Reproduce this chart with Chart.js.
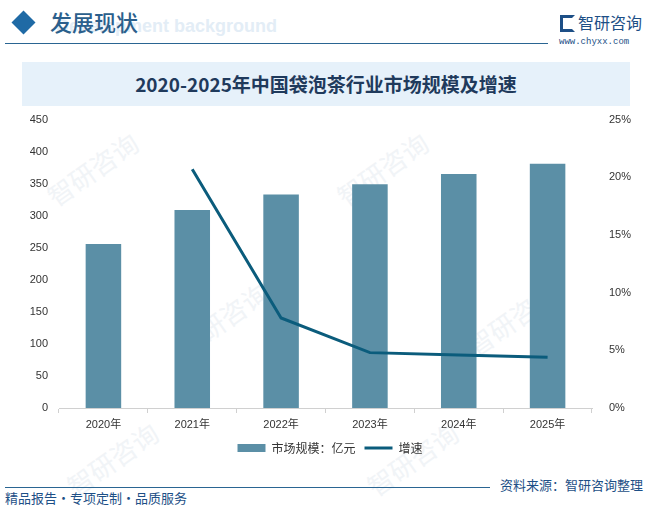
<!DOCTYPE html>
<html>
<head>
<meta charset="utf-8">
<script src="https://cdn.jsdelivr.net/npm/chart.js@4"></script>
<style>
  html, body { margin: 0; padding: 0; background: #fff; }
  body { width: 655px; height: 510px; position: relative; overflow: hidden; font-family: "Noto Sans CJK SC", sans-serif; }
  .diamond { position: absolute; left: 15px; top: 14px; width: 17px; height: 17px; background: #1f6aa5; transform: rotate(45deg); }
  .diamond2 { position: absolute; left: 24px; top: 14px; width: 17px; height: 17px; background: #9fc3e2; transform: rotate(45deg); z-index: -1; }
  .bgword { position: absolute; left: 56px; top: 16px; font: bold 18px "Liberation Sans", sans-serif; color: #e3edf6; white-space: nowrap; }
  .head { position: absolute; left: 50px; top: 5px; font-size: 22px; color: #2b5f8c; font-weight: 500; }
  .headline { position: absolute; left: 5px; top: 43px; width: 543px; height: 1px; background: #2a6592; }
  .logo-icon { position: absolute; left: 560px; top: 15px; width: 15px; height: 17px; border: 3px solid #1d4f86; border-right-color: transparent; box-sizing: border-box; }
  .logo-text { position: absolute; left: 578px; top: 10px; font-size: 16px; color: #1d4f86; }
  .logo-url { position: absolute; left: 559px; top: 37px; font: 9px "Liberation Mono", monospace; color: #1d4f86; }
  .title-box { position: absolute; left: 22px; top: 62px; width: 608px; height: 44px; background: #e6f1fa; }
  .title { position: absolute; left: 22px; top: 62px; width: 608px; height: 44px; line-height: 44px; text-align: center; font-size: 19px; font-weight: bold; color: #1f3a5c; }
  .wm { position: absolute; font-size: 26px; color: #f1f4f7; transform: rotate(-35deg); white-space: nowrap; }
  #wrap { position: absolute; left: 20px; top: 104px; width: 620px; height: 362px; }
  .footline { position: absolute; left: 5px; top: 487px; width: 485px; height: 1px; background: #2a6592; }
  .source { position: absolute; left: 500px; top: 475px; font-size: 13px; color: #1d4f86; }
  .slogan { position: absolute; left: 5px; top: 488px; font-size: 13px; color: #1d4f86; }
</style>
</head>
<body>
<div class="wm" style="left:40px;top:150px;">智研咨询</div>
<div class="wm" style="left:330px;top:150px;">智研咨询</div>
<div class="wm" style="left:170px;top:300px;">智研咨询</div>
<div class="wm" style="left:460px;top:300px;">智研咨询</div>
<div class="wm" style="left:60px;top:440px;">智研咨询</div>
<div class="wm" style="left:360px;top:440px;">智研咨询</div>
<div class="diamond2"></div>
<div class="diamond"></div>
<div class="bgword">Development background</div>
<div class="head">发展现状</div>
<div class="headline"></div>
<div class="logo-icon"></div>
<div class="logo-text">智研咨询</div>
<div class="logo-url">www.chyxx.com</div>
<div class="title-box"></div>
<div class="title">2020-2025年中国袋泡茶行业市场规模及增速</div>
<div id="wrap"><canvas id="chart"></canvas></div>
<div class="footline"></div>
<div class="source">资料来源：智研咨询整理</div>
<div class="slogan">精品报告・专项定制・品质服务</div>

<script>
const years = ['2020年', '2021年', '2022年', '2023年', '2024年', '2025年'];
const marketSize = [256, 309, 333, 349, 365, 381];
const growthRate = [null, 20.7, 7.8, 4.8, 4.6, 4.4];

const tickFont = { family: '"Liberation Sans", "Noto Sans CJK SC", sans-serif', size: 11 };

new Chart(document.getElementById('chart'), {
    type: 'bar',
    data: {
        labels: years,
        datasets: [
            {
                type: 'line',
                label: '增速',
                data: growthRate,
                borderColor: '#0b5c7c',
                backgroundColor: '#0b5c7c',
                borderWidth: 3,
                tension: 0,
                pointRadius: 0,
                yAxisID: 'yRate',
                order: 0,
            },
            {
                type: 'bar',
                label: '市场规模：亿元',
                data: marketSize,
                backgroundColor: '#5b8fa6',
                barPercentage: 0.4,
                categoryPercentage: 1,
                yAxisID: 'ySize',
                order: 1,
            },
        ],
    },
    options: {
        responsive: true,
        maintainAspectRatio: false,
        animation: false,
        layout: { padding: { top: 9, bottom: 2 } },
        plugins: {
            tooltip: { enabled: false },
            legend: {
                position: 'bottom',
                labels: {
                    usePointStyle: true,
                    pointStyleWidth: 28,
                    boxHeight: 8,
                    padding: 9,
                    color: '#333',
                    font: { family: '"Noto Sans CJK SC", sans-serif', size: 12 },
                    generateLabels(chart) {
                        return [1, 0].map(i => {
                            const ds = chart.data.datasets[i];
                            return {
                                text: ds.label,
                                fillStyle: ds.backgroundColor,
                                strokeStyle: ds.type === 'line' ? ds.borderColor : ds.backgroundColor,
                                lineWidth: ds.type === 'line' ? 3 : 0,
                                pointStyle: ds.type === 'line' ? 'line' : 'rect',
                                fontColor: '#333',
                                datasetIndex: i,
                            };
                        });
                    },
                },
            },
        },
        scales: {
            x: {
                grid: { display: true, drawOnChartArea: false, tickLength: 5, color: '#d0d0d0' },
                border: { color: '#d0d0d0' },
                ticks: { color: '#333', font: tickFont, maxRotation: 0, padding: 5 },
                afterFit(scale) { scale.height = 25; },
            },
            ySize: {
                type: 'linear',
                position: 'left',
                min: 0,
                max: 450,
                ticks: { stepSize: 50, color: '#333', font: tickFont },
                grid: { display: false },
                border: { display: false },
                afterFit(scale) { scale.width = 39; },
            },
            yRate: {
                type: 'linear',
                position: 'right',
                min: 0,
                max: 25,
                ticks: {
                    stepSize: 5,
                    color: '#333',
                    font: tickFont,
                    padding: 9,
                    callback: v => v + '%',
                },
                grid: { display: false },
                border: { display: false },
                afterFit(scale) { scale.width = 48; },
            },
        },
    },
});
</script>
</body>
</html>
